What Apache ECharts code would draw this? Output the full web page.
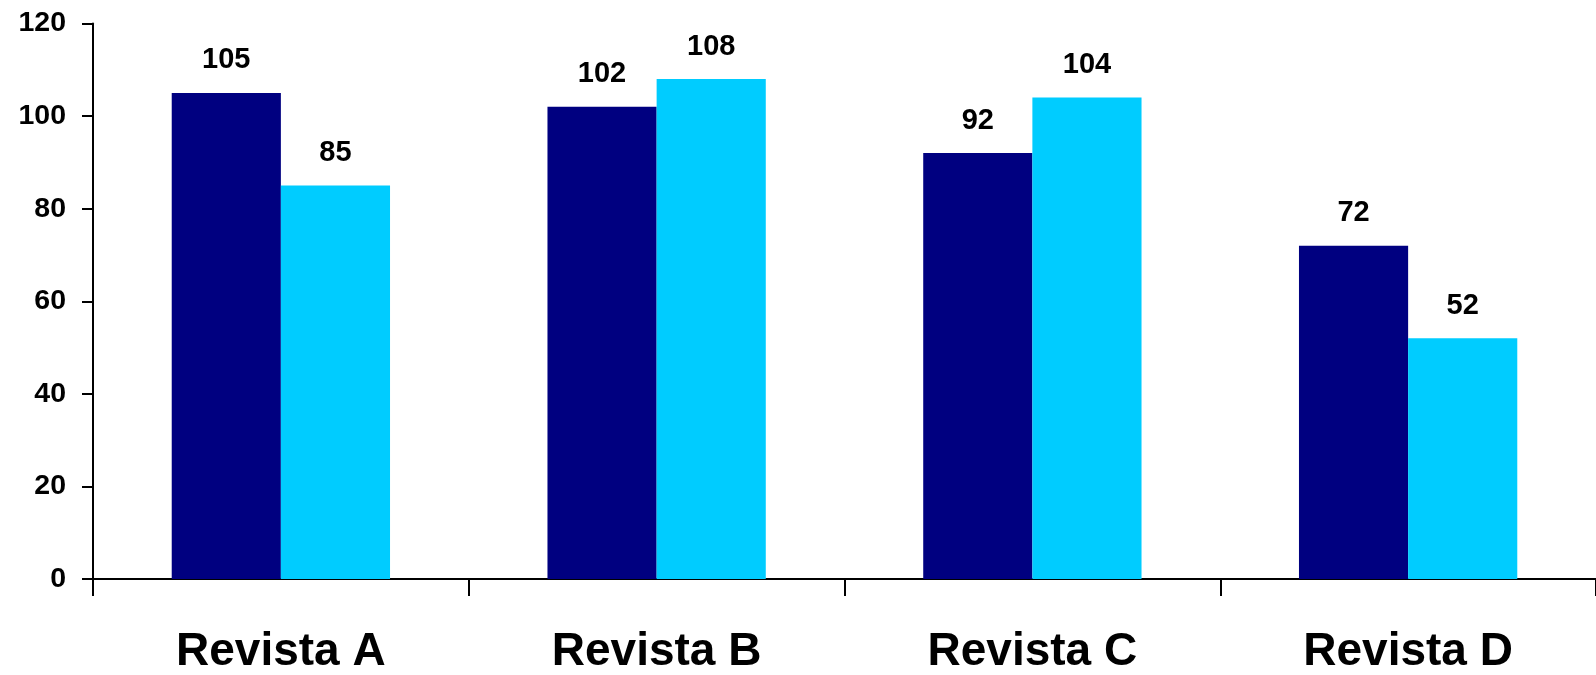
<!DOCTYPE html>
<html>
<head>
<meta charset="utf-8">
<script src="https://cdn.jsdelivr.net/npm/echarts@6/dist/echarts.min.js"></script>
<style>
html,body{margin:0;padding:0;background:#fff;}
#chart{width:1596px;height:675px;}
</style>
</head>
<body>
<div id="chart"></div>
<script>
const categories = ["Revista A", "Revista B", "Revista C", "Revista D"];
const series1 = [105, 102, 92, 72];
const series2 = [85, 108, 104, 52];
const yTicks = { min: 0, max: 120, interval: 20 };

const chart = echarts.init(document.getElementById('chart'));
const font = '"Liberation Sans", Arial, sans-serif';
const labelCfg = {
  show: true,
  position: 'top',
  distance: 18,
  color: '#000',
  fontFamily: font,
  fontWeight: 'bold',
  fontSize: 29
};
chart.setOption({
  animation: false,
  backgroundColor: '#fff',
  grid: { left: 93, top: 23.5, width: 1513.6, height: 559.5, containLabel: false },
  xAxis: {
    type: 'category',
    data: categories,
    axisLine: { lineStyle: { color: '#000', width: 2 } },
    axisTick: { show: true, length: 17, lineStyle: { color: '#000', width: 2 } },
    axisLabel: { color: '#000', fontFamily: font, fontWeight: 'bold', fontSize: 46, margin: 50 }
  },
  yAxis: {
    type: 'value',
    min: yTicks.min, max: yTicks.max, interval: yTicks.interval,
    splitLine: { show: false },
    axisLine: { show: true, lineStyle: { color: '#000', width: 2 } },
    axisTick: { show: true, length: 11, lineStyle: { color: '#000', width: 2 } },
    axisLabel: { color: '#000', fontFamily: font, fontWeight: 'bold', fontSize: 28.5, margin: 27 }
  },
  series: [
    { name: 'Serie 1', type: 'bar', data: series1, barGap: '0%', barCategoryGap: '41.9%',
      itemStyle: { color: '#000080' }, label: labelCfg },
    { name: 'Serie 2', type: 'bar', data: series2, barGap: '0%', barCategoryGap: '41.9%',
      itemStyle: { color: '#00CCFF' }, label: labelCfg }
  ]
});
</script>
</body>
</html>
